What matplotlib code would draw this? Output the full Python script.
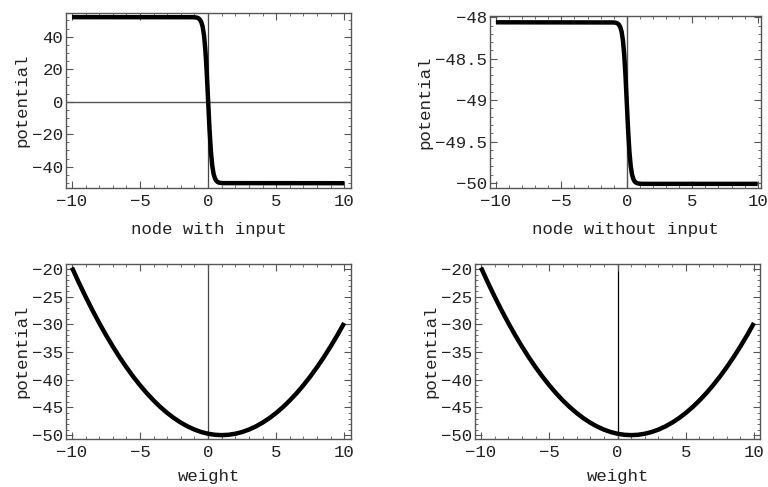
import matplotlib
matplotlib.use("Agg")
import matplotlib.pyplot as plt
from matplotlib.ticker import MultipleLocator

plt.rcParams['font.family'] = ['Liberation Mono', 'DejaVu Sans Mono']
plt.rcParams['axes.unicode_minus'] = True

# --- data ---
sig_x = [-10, -1.2, -1.0, -0.9, -0.8, -0.7, -0.6, -0.5, -0.4, -0.3, -0.2, -0.1, 0.0,
         0.1, 0.2, 0.3, 0.4, 0.5, 0.6, 0.7, 0.8, 0.9, 1.0, 1.2, 10]
with_input = [52.05, 52.0, 51.95, 51.85, 51.7, 51.3, 50.5, 49.0, 46.2, 40.9, 31.8, 18.1, 0.95,
              -16.2, -29.9, -39.0, -44.3, -47.1, -48.6, -49.4, -49.8, -49.95, -50.05, -50.1, -50.15]
without_input = [-48.06, -48.062, -48.062, -48.064, -48.067, -48.075, -48.089, -48.118, -48.172,
                 -48.273, -48.446, -48.707, -49.035, -49.363, -49.624, -49.797, -49.898, -49.952,
                 -49.981, -49.995, -50.003, -50.006, -50.008, -50.01, -50.01]

weight_x = [-10, -9.5, -9, -8.5, -8, -7.5, -7, -6.5, -6, -5.5, -5, -4.5, -4, -3.5, -3, -2.5,
            -2, -1.5, -1, -0.5, 0, 0.5, 1, 1.5, 2, 2.5, 3, 3.5, 4, 4.5, 5, 5.5, 6, 6.5,
            7, 7.5, 8, 8.5, 9, 9.5, 10]
weight_pot = [-19.75, -22.44, -25.0, -27.44, -29.75, -31.94, -34.0, -35.94, -37.75, -39.44,
              -41.0, -42.44, -43.75, -44.94, -46.0, -46.94, -47.75, -48.44, -49.0, -49.44,
              -49.75, -49.94, -50.0, -49.94, -49.75, -49.44, -49.0, -48.44, -47.75, -46.94,
              -46.0, -44.94, -43.75, -42.44, -41.0, -39.44, -37.75, -35.94, -34.0, -31.94, -29.75]

xlabels = ["node with input", "node without input", "weight", "weight"]
ylabel = "potential"
p2_ticks = [-50, -49.5, -49, -48.5, -48]
p2_labels = ['\u221250', '\u221249.5', '\u221249', '\u221248.5', '\u221248']

W, H = 768, 487
fig = plt.figure(figsize=(W / 100, H / 100), dpi=100)

def box(l, r, t, b):
    return [l / W, 1 - b / H, (r - l) / W, (b - t) / H]

frame_col = '#555555'
txt_col = '#222222'
FS = 12.5

def style(ax, ymaj, ymin):
    for s in ax.spines.values():
        s.set_color(frame_col)
        s.set_linewidth(1.0)
    ax.xaxis.set_major_locator(MultipleLocator(5))
    ax.xaxis.set_minor_locator(MultipleLocator(1))
    ax.yaxis.set_major_locator(MultipleLocator(ymaj))
    ax.yaxis.set_minor_locator(MultipleLocator(ymin))
    ax.tick_params(which='both', direction='in', top=True, right=True, color=frame_col,
                   labelsize=FS, labelcolor=txt_col)
    ax.tick_params(which='major', length=5, width=0.8)
    ax.tick_params(axis='x', which='major', pad=4)
    ax.tick_params(axis='y', which='major', pad=2)
    ax.tick_params(which='minor', length=2.5, width=0.6)
    ax.set_ylabel(ylabel, fontsize=FS, labelpad=2, color=txt_col)

# panel 1
ax1 = fig.add_axes(box(66, 351, 13, 188))
ax1.axvline(0, color='#444444', lw=0.9, zorder=1)
ax1.axhline(0, color='#555555', lw=1.0, zorder=1)
ax1.plot(sig_x, with_input, color='black', lw=3.2, solid_capstyle='butt', zorder=3)
ax1.set_xlim(-10.44, 10.5)
ax1.set_ylim(-53.1, 54.6)
style(ax1, 20, 5)
ax1.set_xlabel(xlabels[0], fontsize=FS, labelpad=10, color=txt_col)

# panel 2
ax2 = fig.add_axes(box(490, 761, 16, 188))
ax2.axvline(0, color='#555555', lw=1.0, zorder=1)
ax2.plot(sig_x, without_input, color='black', lw=3.2, solid_capstyle='butt', zorder=3)
ax2.set_xlim(-10.45, 10.25)
ax2.set_ylim(-50.06, -47.984)
style(ax2, 0.5, 0.1)
ax2.set_yticks(p2_ticks)
ax2.set_yticklabels(p2_labels)
ax2.set_xlabel(xlabels[1], fontsize=FS, labelpad=10, color=txt_col)

# panel 3
ax3 = fig.add_axes(box(66, 351, 264, 439))
ax3.axvline(0, color='#444444', lw=0.9, zorder=1)
ax3.plot(weight_x, weight_pot, color='black', lw=3.2, solid_capstyle='butt', zorder=3)
ax3.set_xlim(-10.44, 10.5)
ax3.set_ylim(-50.7, -19.1)
style(ax3, 5, 1)
ax3.set_xlabel(xlabels[2], fontsize=FS, labelpad=7, color=txt_col)

# panel 4
ax4 = fig.add_axes(box(475, 760, 264, 439))
ax4.axvline(0, color='black', lw=0.9, zorder=1)
ax4.plot(weight_x, weight_pot, color='black', lw=3.2, solid_capstyle='butt', zorder=3)
ax4.set_xlim(-10.44, 10.44)
ax4.set_ylim(-50.7, -19.1)
style(ax4, 5, 1)
ax4.set_xlabel(xlabels[3], fontsize=FS, labelpad=7, color=txt_col)

fig.savefig('out.png', dpi=100)
